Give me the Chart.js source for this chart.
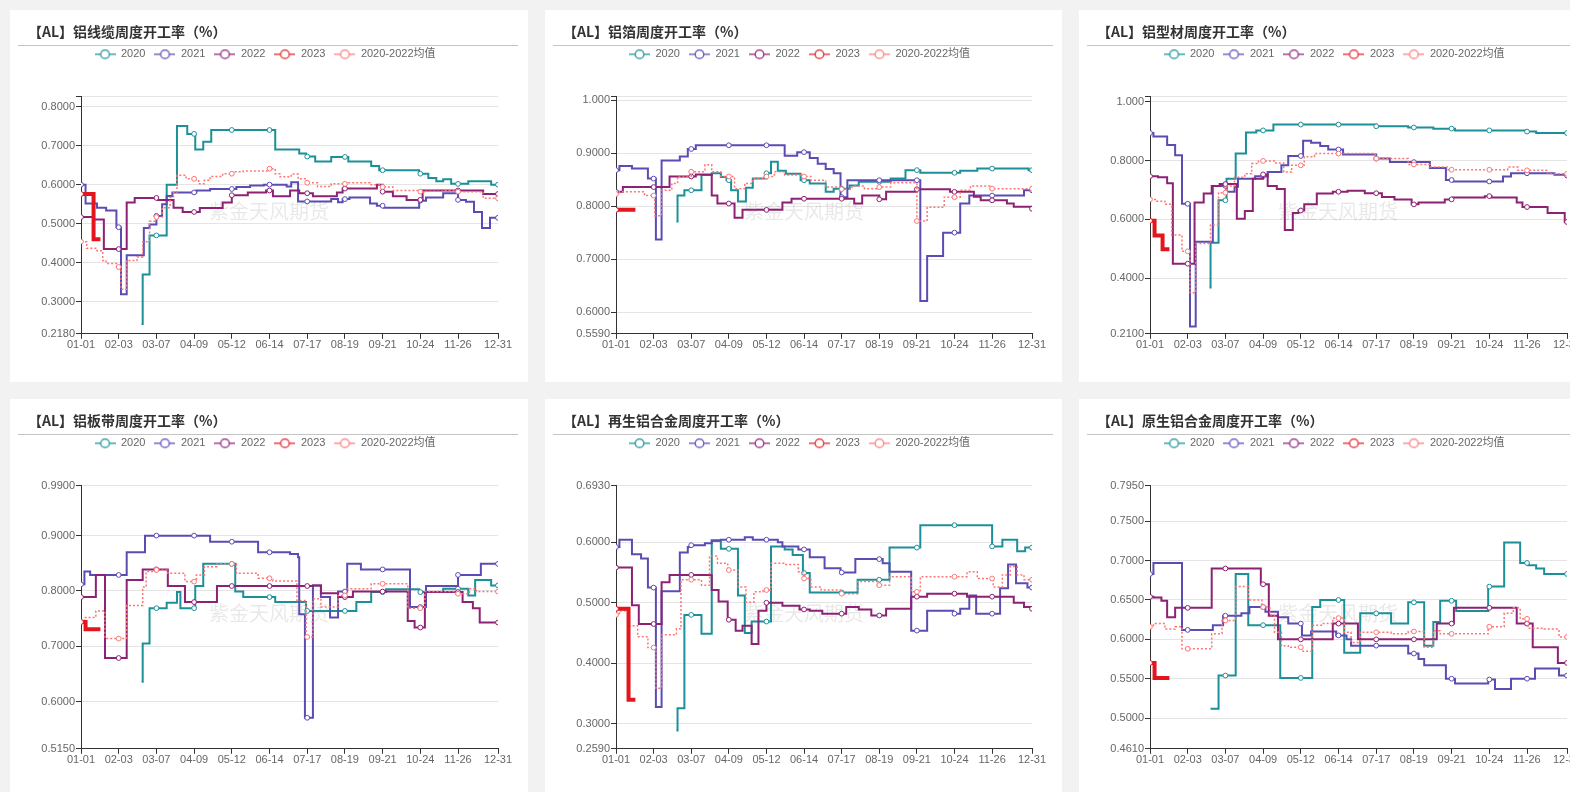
<!DOCTYPE html>
<html>
<head>
<meta charset="utf-8">
<script src="https://cdn.jsdelivr.net/npm/chart.js@4/dist/chart.umd.min.js"></script>
<style>
  html,body{margin:0;padding:0;}
  body{width:1570px;height:792px;overflow:hidden;position:relative;background:#f2f2f2;}
  .card{position:absolute;background:#fff;}
  .card canvas{display:block;}
</style>
</head>
<body>
<div class="card" style="left:10px;top:10px;width:518px;height:372px"><canvas id="c1" width="518" height="372"></canvas></div>
<div class="card" style="left:545px;top:10px;width:517px;height:372px"><canvas id="c2" width="517" height="372"></canvas></div>
<div class="card" style="left:1079px;top:10px;width:518px;height:372px"><canvas id="c3" width="518" height="372"></canvas></div>
<div class="card" style="left:10px;top:399px;width:518px;height:398px"><canvas id="c4" width="518" height="398"></canvas></div>
<div class="card" style="left:545px;top:399px;width:517px;height:398px"><canvas id="c5" width="517" height="398"></canvas></div>
<div class="card" style="left:1079px;top:399px;width:518px;height:398px"><canvas id="c6" width="518" height="398"></canvas></div>
<script>
// ---------- categories / tick labels ----------
const seriesNames = ['2020', '2021', '2022', '2023', '2020-2022均值'];
const dayTicks = [0, 33, 66, 99, 132, 165, 198, 231, 264, 297, 330, 365];
const titles = ['【AL】铝线缆周度开工率（%）', '【AL】铝箔周度开工率（%）', '【AL】铝型材周度开工率（%）',
                '【AL】铝板带周度开工率（%）', '【AL】再生铝合金周度开工率（%）', '【AL】原生铝合金周度开工率（%）'];

// ---------- series values: [day of year, value from that day on] ----------
// Panel 1: 铝线缆
const p1_2020 = [[53,0.243],[54,0.37],[60,0.47],[75,0.60],[84,0.75],[93,0.73],[100,0.69],[107,0.71],[114,0.74],[170,0.69],[191,0.68],[197,0.672],[205,0.659],[219,0.671],[234,0.659],[254,0.648],[261,0.637],[296,0.628],[304,0.617],[311,0.609],[317,0.614],[324,0.602],[339,0.609],[359,0.600],[365,0.600]];
const p1_2021 = [[0,0.60],[4,0.552],[14,0.541],[22,0.534],[31,0.491],[35,0.319],[40,0.419],[55,0.489],[60,0.498],[66,0.52],[71,0.55],[75,0.571],[80,0.58],[101,0.585],[113,0.589],[136,0.594],[148,0.598],[160,0.60],[180,0.595],[184,0.606],[190,0.557],[219,0.563],[225,0.555],[229,0.563],[235,0.567],[253,0.552],[259,0.546],[265,0.541],[296,0.559],[302,0.567],[317,0.578],[330,0.561],[337,0.556],[344,0.530],[351,0.489],[358,0.515],[365,0.515]];
const p1_2022 = [[0,0.517],[11,0.511],[20,0.435],[40,0.554],[47,0.566],[67,0.561],[81,0.541],[89,0.530],[104,0.54],[124,0.554],[132,0.573],[146,0.58],[162,0.585],[168,0.570],[183,0.585],[191,0.578],[203,0.570],[224,0.58],[229,0.59],[259,0.60],[264,0.582],[273,0.570],[285,0.561],[299,0.585],[352,0.576],[365,0.576]];
const p1_2023 = [[0,0.576],[7,0.576],[11,0.46],[17,0.46]];
const p1_avg  = [[0,0.454],[5,0.437],[14,0.431],[19,0.406],[22,0.398],[31,0.389],[35,0.332],[40,0.406],[49,0.415],[54,0.454],[60,0.506],[66,0.517],[71,0.541],[78,0.567],[81,0.58],[84,0.624],[92,0.615],[100,0.613],[103,0.602],[108,0.611],[113,0.621],[124,0.628],[133,0.633],[142,0.635],[165,0.641],[170,0.628],[174,0.620],[184,0.627],[190,0.615],[197,0.605],[207,0.595],[219,0.602],[234,0.605],[253,0.60],[261,0.594],[273,0.585],[296,0.582],[302,0.587],[317,0.585],[330,0.582],[352,0.565],[365,0.565]];
const p1_ticks = [0.218, 0.3, 0.4, 0.5, 0.6, 0.7, 0.8];
const p1_max = 0.825;

// Panel 2: 铝箔
const p2_2020 = [[53,0.771],[54,0.82],[60,0.83],[75,0.859],[84,0.862],[92,0.855],[97,0.849],[101,0.83],[107,0.809],[114,0.835],[120,0.852],[132,0.862],[136,0.884],[142,0.867],[149,0.861],[162,0.849],[170,0.843],[184,0.827],[191,0.833],[205,0.839],[213,0.846],[241,0.852],[254,0.868],[267,0.863],[302,0.867],[317,0.871],[362,0.868],[365,0.868]];
const p2_2021 = [[0,0.868],[3,0.876],[14,0.871],[28,0.852],[35,0.737],[40,0.886],[56,0.894],[63,0.908],[70,0.915],[148,0.895],[159,0.902],[170,0.891],[177,0.880],[184,0.870],[191,0.862],[197,0.817],[203,0.849],[267,0.621],[273,0.706],[287,0.750],[302,0.805],[310,0.820],[358,0.830],[365,0.830]];
const p2_2022 = [[0,0.827],[6,0.836],[47,0.856],[70,0.86],[84,0.82],[89,0.805],[104,0.778],[111,0.793],[146,0.807],[154,0.814],[209,0.805],[216,0.82],[231,0.813],[237,0.827],[264,0.832],[293,0.827],[314,0.818],[320,0.811],[343,0.805],[349,0.799],[365,0.795]];
const p2_2023 = [[0,0.793],[17,0.793]];
const p2_avg  = [[0,0.823],[3,0.827],[25,0.820],[34,0.782],[40,0.83],[49,0.843],[54,0.857],[66,0.865],[78,0.878],[84,0.865],[92,0.856],[104,0.833],[113,0.843],[120,0.852],[130,0.856],[139,0.865],[148,0.859],[162,0.856],[171,0.849],[184,0.836],[197,0.832],[207,0.838],[218,0.833],[229,0.836],[241,0.844],[264,0.772],[273,0.798],[288,0.817],[302,0.830],[311,0.838],[328,0.833],[365,0.833]];
const p2_ticks = [0.559, 0.6, 0.7, 0.8, 0.9, 1.0];
const p2_max = 1.0065;

// Panel 3: 铝型材
const p3_2020 = [[52,0.368],[53,0.52],[60,0.665],[67,0.738],[75,0.824],[84,0.896],[93,0.903],[108,0.923],[198,0.917],[226,0.913],[248,0.909],[267,0.903],[329,0.899],[338,0.894],[365,0.894]];
const p3_2021 = [[0,0.894],[3,0.882],[15,0.853],[22,0.818],[28,0.653],[35,0.235],[40,0.524],[55,0.714],[67,0.694],[74,0.711],[77,0.738],[92,0.747],[103,0.761],[115,0.784],[121,0.816],[134,0.868],[141,0.861],[149,0.850],[156,0.838],[169,0.821],[198,0.807],[210,0.795],[245,0.775],[259,0.734],[265,0.729],[309,0.746],[316,0.757],[354,0.752],[365,0.749]];
const p3_2022 = [[0,0.747],[7,0.743],[15,0.723],[20,0.449],[39,0.657],[47,0.688],[54,0.714],[61,0.720],[76,0.602],[83,0.628],[90,0.738],[99,0.753],[103,0.714],[111,0.703],[118,0.564],[125,0.622],[130,0.630],[135,0.651],[146,0.688],[160,0.694],[173,0.697],[188,0.689],[203,0.676],[214,0.668],[229,0.651],[235,0.657],[258,0.668],[265,0.674],[293,0.679],[299,0.674],[321,0.657],[326,0.642],[348,0.622],[363,0.591],[365,0.591]];
const p3_2023 = [[0,0.595],[4,0.545],[11,0.498],[17,0.498]];
const p3_avg  = [[0,0.668],[6,0.662],[13,0.651],[19,0.547],[28,0.491],[35,0.350],[40,0.518],[53,0.581],[60,0.691],[67,0.714],[74,0.743],[83,0.755],[89,0.790],[95,0.799],[109,0.792],[117,0.761],[124,0.784],[135,0.813],[144,0.824],[197,0.807],[226,0.787],[245,0.778],[261,0.769],[313,0.778],[322,0.767],[348,0.755],[365,0.755]];
const p3_ticks = [0.21, 0.4, 0.6, 0.8, 1.0];
const p3_max = 1.0175;

// Panel 4: 铝板带
const p4_2020 = [[53,0.636],[54,0.705],[60,0.769],[75,0.779],[84,0.798],[87,0.769],[100,0.809],[107,0.849],[135,0.799],[142,0.789],[170,0.780],[197,0.764],[241,0.780],[254,0.798],[267,0.803],[296,0.798],[317,0.804],[339,0.792],[345,0.820],[359,0.810],[365,0.810]];
const p4_2021 = [[0,0.812],[3,0.835],[8,0.829],[40,0.870],[56,0.90],[113,0.889],[155,0.870],[183,0.867],[190,0.861],[191,0.758],[196,0.571],[203,0.810],[210,0.789],[218,0.752],[225,0.799],[233,0.849],[245,0.839],[288,0.771],[302,0.809],[330,0.829],[350,0.849],[365,0.849]];
const p4_2022 = [[0,0.789],[13,0.829],[21,0.679],[40,0.820],[54,0.839],[76,0.809],[91,0.780],[119,0.809],[203,0.810],[210,0.796],[225,0.789],[238,0.799],[286,0.746],[292,0.734],[301,0.798],[334,0.780],[343,0.769],[349,0.743],[365,0.743]];
const p4_2023 = [[0,0.744],[4,0.731],[17,0.731]];
const p4_avg  = [[0,0.744],[3,0.752],[13,0.764],[21,0.714],[40,0.774],[54,0.807],[57,0.835],[66,0.838],[76,0.832],[91,0.817],[101,0.829],[108,0.844],[119,0.849],[136,0.832],[155,0.823],[168,0.818],[189,0.783],[197,0.717],[203,0.786],[210,0.771],[225,0.792],[233,0.804],[254,0.813],[286,0.769],[301,0.799],[328,0.795],[340,0.804],[346,0.799],[365,0.799]];
const p4_ticks = [0.515, 0.6, 0.7, 0.8, 0.9, 0.99];
const p4_max = 0.99;

// Panel 5: 再生铝合金
const p5_2020 = [[53,0.289],[54,0.326],[60,0.480],[75,0.449],[84,0.602],[92,0.589],[107,0.512],[113,0.45],[119,0.469],[136,0.593],[148,0.588],[155,0.579],[164,0.549],[170,0.517],[212,0.538],[240,0.591],[267,0.628],[330,0.593],[339,0.604],[352,0.585],[359,0.591],[365,0.591]];
const p5_2021 = [[0,0.592],[3,0.604],[14,0.580],[22,0.573],[28,0.525],[35,0.328],[40,0.519],[56,0.583],[63,0.592],[66,0.595],[78,0.598],[84,0.603],[92,0.604],[113,0.608],[120,0.604],[142,0.60],[146,0.593],[160,0.588],[170,0.575],[183,0.557],[197,0.550],[210,0.572],[234,0.565],[240,0.551],[259,0.454],[273,0.487],[296,0.482],[302,0.490],[310,0.512],[316,0.482],[337,0.524],[344,0.563],[351,0.532],[361,0.525],[365,0.525]];
const p5_2022 = [[0,0.558],[14,0.496],[20,0.465],[40,0.534],[47,0.546],[84,0.521],[90,0.502],[98,0.472],[105,0.454],[111,0.462],[119,0.432],[125,0.487],[132,0.500],[146,0.495],[161,0.489],[170,0.487],[181,0.482],[202,0.493],[213,0.489],[224,0.479],[237,0.490],[259,0.510],[273,0.515],[308,0.510],[349,0.500],[358,0.493],[365,0.490]];
const p5_2023 = [[0,0.490],[7,0.490],[11,0.340],[17,0.340]];
const p5_avg  = [[0,0.48],[3,0.487],[11,0.462],[19,0.444],[28,0.426],[35,0.359],[40,0.447],[53,0.457],[57,0.538],[75,0.529],[82,0.577],[89,0.565],[98,0.554],[107,0.526],[114,0.501],[121,0.518],[129,0.521],[136,0.565],[148,0.563],[160,0.551],[165,0.540],[171,0.526],[180,0.521],[197,0.515],[212,0.535],[229,0.529],[240,0.543],[259,0.518],[267,0.543],[308,0.551],[317,0.540],[331,0.526],[339,0.546],[346,0.560],[352,0.546],[358,0.538],[365,0.538]];
const p5_ticks = [0.259, 0.3, 0.4, 0.5, 0.6, 0.693];
const p5_max = 0.693;

// Panel 6: 原生铝合金
const p6_2020 = [[53,0.512],[60,0.554],[75,0.683],[86,0.618],[114,0.551],[142,0.641],[149,0.650],[170,0.583],[184,0.633],[211,0.620],[226,0.647],[240,0.592],[248,0.622],[254,0.649],[268,0.636],[296,0.667],[310,0.723],[324,0.697],[331,0.694],[338,0.690],[345,0.683],[365,0.683]];
const p6_2021 = [[0,0.683],[3,0.697],[28,0.612],[55,0.618],[64,0.630],[80,0.633],[87,0.641],[101,0.635],[112,0.628],[121,0.620],[133,0.605],[141,0.610],[163,0.605],[172,0.600],[176,0.592],[226,0.582],[235,0.575],[240,0.567],[259,0.550],[267,0.544],[296,0.549],[302,0.537],[316,0.550],[337,0.563],[358,0.554],[365,0.554]];
const p6_2022 = [[0,0.654],[3,0.653],[10,0.649],[15,0.628],[22,0.640],[54,0.690],[97,0.670],[104,0.630],[112,0.600],[160,0.620],[182,0.600],[251,0.620],[266,0.640],[321,0.620],[335,0.590],[357,0.570],[365,0.570]];
const p6_2023 = [[0,0.570],[4,0.551],[17,0.551]];
const p6_avg  = [[0,0.616],[3,0.620],[13,0.613],[22,0.616],[28,0.588],[54,0.607],[63,0.624],[75,0.667],[86,0.650],[98,0.641],[105,0.631],[109,0.609],[115,0.592],[121,0.590],[133,0.585],[142,0.618],[150,0.620],[160,0.627],[170,0.609],[176,0.596],[184,0.609],[211,0.607],[226,0.610],[240,0.590],[248,0.611],[254,0.607],[296,0.616],[310,0.633],[318,0.640],[324,0.626],[331,0.614],[345,0.613],[358,0.603],[365,0.603]];
const p6_ticks = [0.461, 0.5, 0.55, 0.6, 0.65, 0.7, 0.75, 0.795];
const p6_max = 0.795;

// ---------- styles ----------
const colors = ['#1c9098', '#5a4cb2', '#8d2173', '#e3161e', '#ff7474'];
const legendColors = ['#3aa3a8', '#7467c4', '#a04490', '#e8454a', '#ff9090'];
const lineWidths = [2, 2, 2, 4, 1.5];
const dashes = [[], [], [], [], [2, 2]];
const drawOrder = [4, 3, 2, 0, 1];
const FONT = '"Liberation Sans", "Noto Sans CJK SC", sans-serif';

const panels = [
  {id: 'c1', series: [p1_2020, p1_2021, p1_2022, p1_2023, p1_avg], ticks: p1_ticks, max: p1_max},
  {id: 'c2', series: [p2_2020, p2_2021, p2_2022, p2_2023, p2_avg], ticks: p2_ticks, max: p2_max},
  {id: 'c3', series: [p3_2020, p3_2021, p3_2022, p3_2023, p3_avg], ticks: p3_ticks, max: p3_max},
  {id: 'c4', series: [p4_2020, p4_2021, p4_2022, p4_2023, p4_avg], ticks: p4_ticks, max: p4_max},
  {id: 'c5', series: [p5_2020, p5_2021, p5_2022, p5_2023, p5_avg], ticks: p5_ticks, max: p5_max},
  {id: 'c6', series: [p6_2020, p6_2021, p6_2022, p6_2023, p6_avg], ticks: p6_ticks, max: p6_max}
];

function dayLabel(d) {
  const dt = new Date(2020, 0, 1 + d);
  const m = String(dt.getMonth() + 1).padStart(2, '0');
  const dd = String(dt.getDate()).padStart(2, '0');
  return m + '-' + dd;
}

// step-hold series: the change points plus the axis-tick days (for markers)
function buildPoints(cp) {
  const first = cp[0][0], last = cp[cp.length - 1][0];
  const days = new Set(cp.map(p => p[0]));
  dayTicks.forEach(d => { if (d >= first && d <= last) days.add(d); });
  return [...days].sort((a, b) => a - b).map(d => {
    let v = null;
    for (const p of cp) { if (p[0] <= d) v = p[1]; else break; }
    return {x: d, y: v, tick: dayTicks.includes(d)};
  });
}

function makeIcon(color) {
  const c = document.createElement('canvas');
  c.width = 21; c.height = 12;
  const g = c.getContext('2d');
  g.strokeStyle = color; g.lineWidth = 1.5;
  g.beginPath(); g.moveTo(0, 6); g.lineTo(21, 6); g.stroke();
  g.beginPath(); g.arc(10.5, 6, 4.3, 0, Math.PI * 2);
  g.fillStyle = '#fff'; g.fill(); g.stroke();
  return c;
}
const icons = legendColors.map(makeIcon);

const decor = {
  id: 'decor',
  afterLayout(chart) {
    if (chart.titleBlock) { chart.titleBlock.left -= 4; chart.titleBlock.right -= 4; }
  },
  beforeDatasetsDraw(chart) {
    const ctx = chart.ctx, a = chart.chartArea;
    ctx.save();
    ctx.font = '20px "Noto Sans CJK SC", sans-serif';
    ctx.fillStyle = 'rgba(0,0,0,0.09)';
    ctx.textAlign = 'center';
    ctx.textBaseline = 'middle';
    ctx.fillText('紫金天风期货', 259, (a.top + a.bottom) / 2 - 4);
    ctx.restore();
  },
  afterDraw(chart) {
    const ctx = chart.ctx;
    ctx.save();
    ctx.strokeStyle = '#c4c4c4';
    ctx.lineWidth = 1;
    ctx.beginPath(); ctx.moveTo(8, 35.5); ctx.lineTo(508, 35.5); ctx.stroke();
    ctx.restore();
  }
};

panels.forEach((p, pi) => {
  const datasets = p.series.map((s, i) => ({
    label: seriesNames[i],
    data: buildPoints(s),
    borderColor: colors[i],
    backgroundColor: '#fff',
    borderWidth: lineWidths[i],
    borderDash: dashes[i],
    stepped: true,
    fill: false,
    order: drawOrder[i],
    pointRadius: ctx => (ctx.raw && ctx.raw.tick) ? 2.4 : 0,
    pointBackgroundColor: '#fff',
    pointBorderColor: colors[i],
    pointBorderWidth: 1,
    pointHoverRadius: 0
  }));
  const yTicks = p.ticks.includes(p.max) ? p.ticks.slice() : p.ticks.concat([p.max]);
  new Chart(document.getElementById(p.id), {
    type: 'line',
    data: {datasets},
    plugins: [decor],
    options: {
      responsive: false,
      animation: false,
      events: [],
      layout: {padding: {left: 22, right: 30, top: 0, bottom: 30}},
      plugins: {
        tooltip: {enabled: false},
        title: {
          display: true, text: titles[pi], align: 'start', color: '#333',
          font: {family: '"Noto Sans CJK SC", sans-serif', size: 14, weight: 'bold', lineHeight: 1.2},
          padding: {top: 13, bottom: 0}
        },
        subtitle: {
          display: true, text: '', weight: 500,
          font: {size: 1, lineHeight: 1}, padding: {top: 26, bottom: 0}
        },
        legend: {
          display: true, position: 'top', align: 'center',
          labels: {
            usePointStyle: true, pointStyleWidth: 21, padding: 9, color: '#666',
            font: {family: FONT, size: 11},
            generateLabels: chart => chart.data.datasets.map((ds, i) => ({
              text: ds.label, pointStyle: icons[i], fillStyle: 'transparent',
              strokeStyle: 'transparent', lineWidth: 0, hidden: false,
              datasetIndex: i, fontColor: '#666'
            }))
          }
        }
      },
      scales: {
        x: {
          type: 'linear', min: 0, max: 365,
          afterBuildTicks: s => { s.ticks = dayTicks.map(v => ({value: v})); },
          ticks: {
            autoSkip: false, maxRotation: 0, padding: 0, color: '#666',
            font: {family: FONT, size: 11},
            callback: v => dayLabel(v)
          },
          grid: {drawOnChartArea: false, drawTicks: true, tickLength: 5, tickColor: '#333'},
          border: {display: true, color: '#333', width: 1}
        },
        y: {
          type: 'linear', min: p.ticks[0], max: p.max,
          afterBuildTicks: s => { s.ticks = yTicks.map(v => ({value: v})); },
          afterFit: s => { s.width = 49; },
          ticks: {
            autoSkip: false, padding: 1, color: '#666',
            font: {family: FONT, size: 11},
            callback: v => (p.ticks.includes(v) ? Number(v).toPrecision(4) : '')
          },
          grid: {color: '#e4e4e4', lineWidth: 1, tickLength: 5, tickColor: '#333'},
          border: {display: true, color: '#333', width: 1}
        }
      }
    }
  });
});
</script>
</body>
</html>
